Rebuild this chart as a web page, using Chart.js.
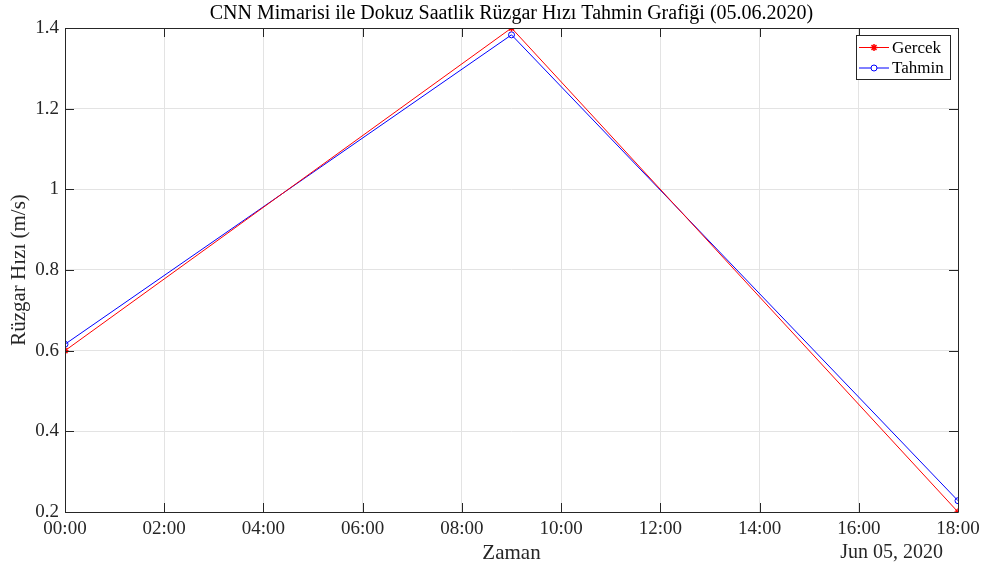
<!DOCTYPE html>
<html>
<head>
<meta charset="utf-8">
<script src="https://cdn.jsdelivr.net/npm/chart.js@4.4.1/dist/chart.umd.min.js"></script>
<style>
  html, body { margin: 0; padding: 0; background: #ffffff; }
  #wrap { width: 990px; height: 570px; }
</style>
</head>
<body>
<div id="wrap"><canvas id="c" width="990" height="570"></canvas></div>
<script>
// Hourly wind speed, 05.06.2020
const times = ['00:00', '09:00', '18:00'];
const gercek = [0.6, 1.4, 0.2];
const tahmin = [0.616, 1.383, 0.228];
const xTickHours = [0, 2, 4, 6, 8, 10, 12, 14, 16, 18];
const yTicks = [0.2, 0.4, 0.6, 0.8, 1.0, 1.2, 1.4];

const chartTitle = 'CNN Mimarisi ile Dokuz Saatlik Rüzgar Hızı Tahmin Grafiği (05.06.2020)';
const xTitle = 'Zaman';
const yTitle = 'Rüzgar Hızı (m/s)';
const dateLabel = 'Jun 05, 2020';

const FONT = '"Liberation Serif", "Times New Roman", serif';
const AXIS = '#262626';
const GRID = '#e3e3e3';

const toHours = t => { const [h, m] = t.split(':').map(Number); return h + m / 60; };
const pts = vals => times.map((t, i) => ({ x: toHours(t), y: vals[i] }));
const fmtHour = v => String(Math.round(v)).padStart(2, '0') + ':00';

// Box outline, inward tick marks, titles and legend in the MATLAB figure style
const figureDecor = {
  id: 'figureDecor',
  afterDraw(chart) {
    const { ctx, chartArea: a, scales: { x, y } } = chart;
    const L = 9;
    ctx.save();
    ctx.strokeStyle = AXIS;
    ctx.lineWidth = 1;
    ctx.beginPath();
    ctx.rect(Math.round(a.left) + 0.5, Math.round(a.top) + 0.5,
             Math.round(a.right - a.left), Math.round(a.bottom - a.top));
    xTickHours.forEach(h => {
      const px = Math.round(x.getPixelForValue(h)) + 0.5;
      ctx.moveTo(px, a.bottom); ctx.lineTo(px, a.bottom - L);
      ctx.moveTo(px, a.top); ctx.lineTo(px, a.top + L);
    });
    yTicks.forEach(v => {
      const py = Math.round(y.getPixelForValue(v)) + 0.5;
      ctx.moveTo(a.left, py); ctx.lineTo(a.left + L, py);
      ctx.moveTo(a.right, py); ctx.lineTo(a.right - L, py);
    });
    ctx.stroke();

    ctx.fillStyle = '#000000';
    ctx.textAlign = 'center';
    ctx.textBaseline = 'middle';
    ctx.font = '20px ' + FONT;
    ctx.fillText(chartTitle, (a.left + a.right) / 2, 14);

    ctx.fillStyle = '#262626';
    ctx.font = '21px ' + FONT;
    ctx.fillText(xTitle, (a.left + a.right) / 2, 553);
    ctx.save();
    ctx.translate(19, (a.top + a.bottom) / 2);
    ctx.rotate(-Math.PI / 2);
    ctx.fillText(yTitle, 0, 0);
    ctx.restore();

    ctx.font = '20px ' + FONT;
    ctx.textAlign = 'right';
    ctx.fillText(dateLabel, 943, 553);

    // legend
    const bx = 856.5, by = 35.5, bw = 94, bh = 44;
    ctx.fillStyle = '#ffffff';
    ctx.fillRect(bx, by, bw, bh);
    ctx.strokeStyle = AXIS;
    ctx.strokeRect(bx, by, bw, bh);
    ctx.font = '17px ' + FONT;
    ctx.textAlign = 'left';
    chart.data.datasets.forEach((ds, i) => {
      const cy = 47.5 + i * 20.5;
      ctx.strokeStyle = ds.borderColor;
      ctx.lineWidth = 1;
      ctx.beginPath();
      ctx.moveTo(859, cy); ctx.lineTo(889, cy);
      ctx.stroke();
      ctx.strokeStyle = ds.pointBorderColor;
      ctx.fillStyle = ds.pointStyle === 'circle' ? '#ffffff' : ds.pointBorderColor;
      ctx.lineWidth = ds.pointBorderWidth;
      Chart.helpers.drawPoint(ctx, {
        pointStyle: ds.pointStyle, radius: ds.pointRadius, borderWidth: ds.pointBorderWidth
      }, 874, cy);
      ctx.fillStyle = '#000000';
      ctx.fillText(ds.label, 892, cy + 1);
    });
    ctx.restore();
  }
};

new Chart(document.getElementById('c'), {
  type: 'line',
  data: {
    datasets: [
      {
        label: 'Gercek',
        data: pts(gercek),
        borderColor: '#ff0000',
        backgroundColor: '#ff0000',
        borderWidth: 1,
        pointStyle: 'star',
        pointRadius: 3.5,
        pointBorderWidth: 1.5,
        pointBorderColor: '#ff0000',
        tension: 0
      },
      {
        label: 'Tahmin',
        data: pts(tahmin),
        borderColor: '#0000ff',
        backgroundColor: 'rgba(0,0,0,0)',
        borderWidth: 1,
        pointStyle: 'circle',
        pointRadius: 3,
        pointBorderWidth: 1,
        pointBorderColor: '#0000ff',
        pointBackgroundColor: 'rgba(0,0,0,0)',
        tension: 0
      }
    ]
  },
  options: {
    responsive: false,
    animation: false,
    events: [],
    layout: { padding: { top: 28, right: 32, left: 0, bottom: 0 } },
    plugins: { legend: { display: false }, title: { display: false }, tooltip: { enabled: false } },
    scales: {
      x: {
        type: 'linear',
        min: 0, max: 18,
        afterFit: s => { s.height = 58; },
        afterBuildTicks: s => { s.ticks = xTickHours.map(v => ({ value: v })); },
        ticks: {
          callback: v => fmtHour(v),
          color: '#262626',
          font: { family: FONT, size: 19 },
          padding: 6,
          maxRotation: 0,
          autoSkip: false
        },
        grid: { color: GRID, drawTicks: false },
        border: { display: false }
      },
      y: {
        min: 0.2, max: 1.4,
        afterFit: s => { s.width = 65; },
        afterBuildTicks: s => { s.ticks = yTicks.map(v => ({ value: v })); },
        ticks: {
          callback: v => (Math.round(v * 10) / 10).toString(),
          color: '#262626',
          font: { family: FONT, size: 19 },
          padding: 6
        },
        grid: { color: GRID, drawTicks: false },
        border: { display: false }
      }
    }
  },
  plugins: [figureDecor]
});
</script>
</body>
</html>
